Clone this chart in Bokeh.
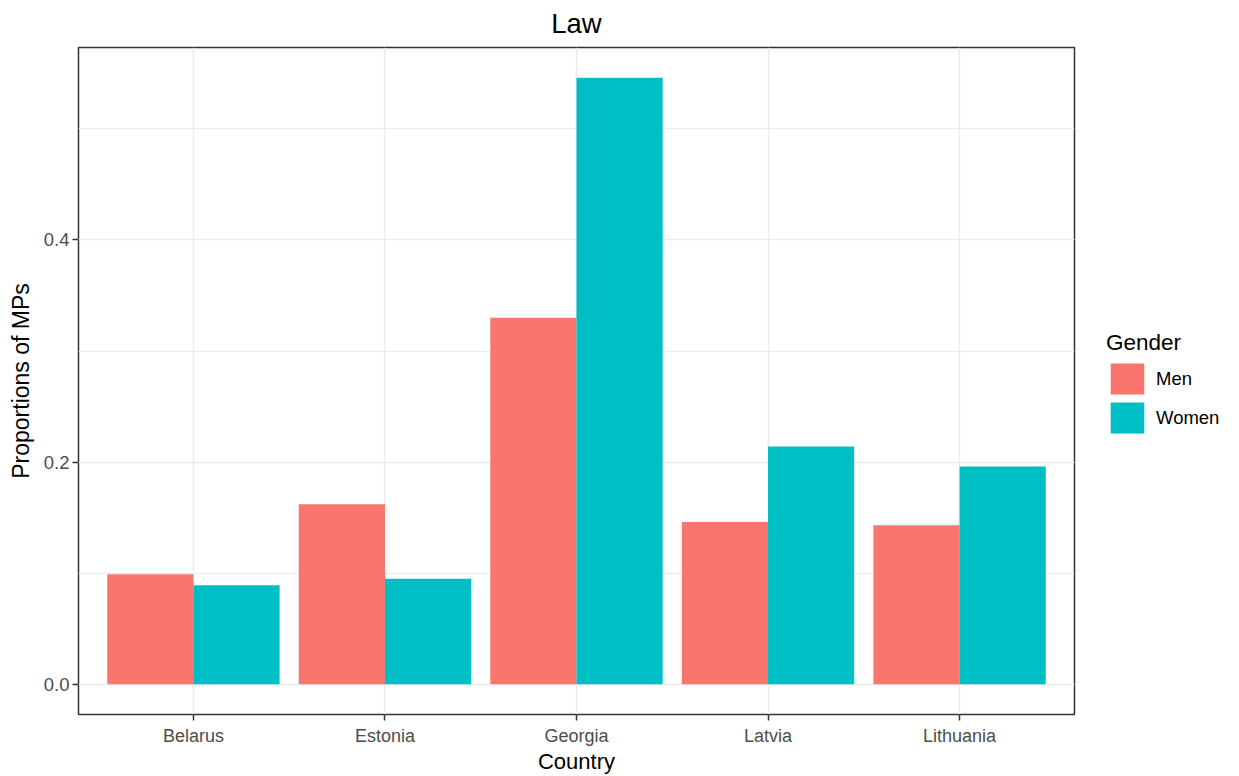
from bokeh.plotting import figure
from bokeh.layouts import row
from bokeh.models import (FactorRange, Range1d, ColumnDataSource, Legend, LegendItem,
                          SingleIntervalTicker, NumeralTickFormatter)
from bokeh.transform import dodge
from bokeh.embed import file_html
from bokeh.resources import INLINE

countries = ["Belarus", "Estonia", "Georgia", "Latvia", "Lithuania"]
men = [0.099, 0.162, 0.330, 0.146, 0.143]
women = [0.089, 0.095, 0.546, 0.214, 0.196]
genders = ["Men", "Women"]
colors = ["#F8766D", "#00BFC4"]

source = ColumnDataSource(dict(country=countries, Men=men, Women=women))

FONT = "Liberation Sans"

p = figure(
    width=1076, height=776,
    x_range=FactorRange(factors=countries, range_padding=0.1, range_padding_units="absolute"),
    y_range=Range1d(-0.0273, 0.5733),
    output_backend="svg", toolbar_location=None,
    title="Law",
    min_border_left=78, min_border_top=47, min_border_right=2, min_border_bottom=61,
)

for g, c, off in zip(genders, colors, [-0.225, 0.225]):
    p.vbar(x=dodge("country", off, range=p.x_range), top=g, bottom=0, width=0.45,
           source=source, fill_color=c, line_color=None)

# title
p.title.text_font = FONT
p.title.text_font_size = "27.5px"
p.title.text_font_style = "normal"
p.title.align = "center"
p.title.vertical_align = "top"
p.title.text_color = "black"
p.title.standoff = 14

# frame
p.outline_line_color = "#333333"
p.outline_line_width = 1.5
p.background_fill_color = "white"
p.border_fill_color = "white"

# grids
p.xgrid.grid_line_color = "#EBEBEB"
p.xgrid.grid_line_width = 1.5
p.ygrid.grid_line_color = "#EBEBEB"
p.ygrid.grid_line_width = 1.5
p.ygrid.minor_grid_line_color = "#EBEBEB"
p.ygrid.minor_grid_line_width = 1.0

p.yaxis.ticker = SingleIntervalTicker(interval=0.2, num_minor_ticks=2)
p.yaxis.formatter = NumeralTickFormatter(format="0.0")

for ax in [p.xaxis[0], p.yaxis[0]]:
    ax.axis_line_color = None
    ax.major_tick_line_color = "#333333"
    ax.major_tick_line_width = 1.5
    ax.major_tick_out = 6
    ax.major_tick_in = 0
    ax.minor_tick_line_color = None
    ax.major_label_text_font = FONT
    ax.major_label_text_font_size = "18.5px"
    ax.major_label_text_color = "#4D4D4D"
    ax.axis_label_text_font = FONT
    ax.axis_label_text_font_size = "23px"
    ax.axis_label_text_font_style = "normal"
    ax.axis_label_text_color = "black"

p.xaxis.axis_label = "Country"
p.yaxis.axis_label = "Proportions of MPs"
p.xaxis.major_label_text_font_size = "18px"
p.xaxis.axis_label_text_font_size = "22px"
p.xaxis.major_label_standoff = 5
p.xaxis.axis_label_standoff = 0
p.yaxis.major_label_standoff = 3
p.yaxis.axis_label_standoff = 7

# legend panel (separate area to the right of the plot); its bars have no extent
lf = figure(width=163, height=776, output_backend="svg", toolbar_location=None,
            x_range=FactorRange(factors=countries), y_range=Range1d(10, 11),
            x_axis_location=None, y_axis_location=None,
            min_border_left=0, min_border_right=0, min_border_top=0, min_border_bottom=0)
lf.outline_line_color = None
lf.xgrid.visible = False
lf.ygrid.visible = False
lf.border_fill_color = "white"
lf.background_fill_color = "white"

items = []
for g, c in zip(genders, colors):
    r = lf.vbar(x="country", top=g, bottom=g, width=0, source=source,
                fill_color=c, line_color=None)
    items.append(LegendItem(label=g, renderers=[r]))

legend = Legend(items=items, title="Gender", location=(30, 277), orientation="vertical")
legend.title_text_font = FONT
legend.title_text_font_size = "22.5px"
legend.title_text_font_style = "normal"
legend.title_text_color = "black"
legend.title_standoff = 3
legend.label_text_font = FONT
legend.label_text_font_size = "18.5px"
legend.label_text_color = "black"
legend.glyph_width = 42
legend.glyph_height = 39
legend.label_standoff = 8
legend.label_height = 39
legend.spacing = 0
legend.padding = 0
legend.margin = 0
legend.border_line_color = None
legend.background_fill_alpha = 0
lf.add_layout(legend, "center")

layout = row(p, lf, spacing=0)

open("out.html", "w").write(file_html(layout, INLINE))
